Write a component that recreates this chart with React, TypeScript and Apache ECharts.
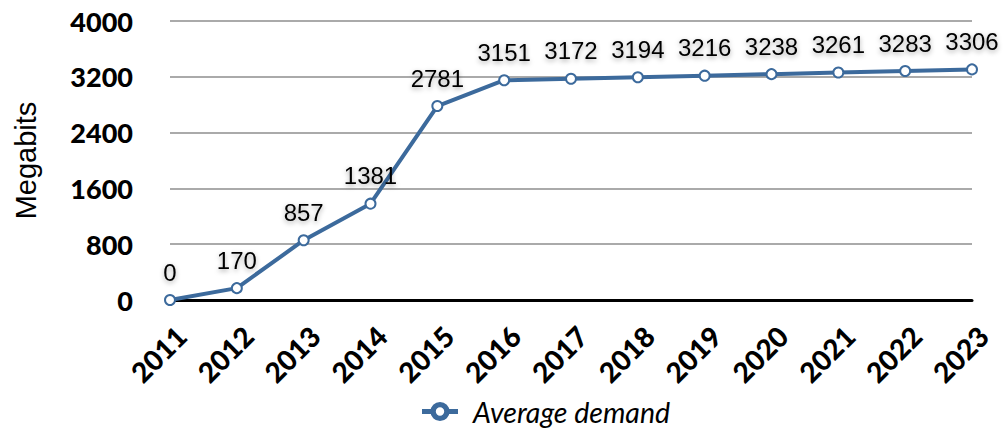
import React, { useEffect, useRef } from "react";
import * as echarts from "echarts";

const years = ["2011", "2012", "2013", "2014", "2015", "2016", "2017", "2018", "2019", "2020", "2021", "2022", "2023"];
const demand = [0, 170, 857, 1381, 2781, 3151, 3172, 3194, 3216, 3238, 3261, 3283, 3306];
const seriesName = "Average demand";
const yTitle = "Megabits";

const legendIcon =
  "path://M15,0 A8,8 0 1,1 15,16 A8,8 0 1,1 15,0 Z M15,4.5 A3.5,3.5 0 1,0 15,11.5 A3.5,3.5 0 1,0 15,4.5 Z M0,6 L7.5,6 L7.5,10 L0,10 Z M22.5,6 L30,6 L30,10 L22.5,10 Z";

export default function App() {
  const ref = useRef<HTMLDivElement>(null);
  useEffect(() => {
    const chart = echarts.init(ref.current!, null, { renderer: "svg" });
    chart.setOption({
      animation: false,
      grid: { left: 170, right: 31, top: 21, bottom: 132 },
      legend: {
        data: [seriesName],
        top: 392,
        left: 417,
        icon: legendIcon,
        itemWidth: 36,
        itemHeight: 20,
        itemStyle: { color: "#3c6a9c", borderWidth: 0 },
        textStyle: {
          fontFamily: "Lato",
          fontStyle: "italic",
          fontSize: 28.5,
          color: "#000",
          padding: [0, 0, 0, 10],
        },
      },
      xAxis: {
        type: "category",
        data: years,
        boundaryGap: false,
        axisLine: { lineStyle: { color: "#000", width: 3 } },
        axisTick: { show: false },
        axisLabel: {
          interval: 0,
          rotate: 45,
          margin: 0,
          verticalAlign: "top",
          padding: [16, 14, 0, 0],
          fontFamily: "Lato",
          fontWeight: 900,
          fontSize: 28,
          color: "#000",
        },
      },
      yAxis: {
        type: "value",
        min: 0,
        max: 4000,
        interval: 800,
        name: yTitle,
        nameLocation: "middle",
        nameGap: 130,
        nameTextStyle: { fontFamily: "Liberation Sans", fontSize: 29, color: "#000" },
        axisLine: { show: false },
        axisTick: { show: false },
        axisLabel: {
          margin: 37,
          formatter: (v: number) => String(v),
          fontFamily: "Lato",
          fontWeight: 900,
          fontSize: 27,
          color: "#000",
        },
        splitLine: { lineStyle: { color: "#aaaaaa", width: 2 } },
      },
      series: [
        {
          name: seriesName,
          type: "line",
          data: demand,
          symbol: "emptyCircle",
          symbolSize: 10,
          lineStyle: { color: "#3c6a9c", width: 4 },
          itemStyle: { color: "#3c6a9c", borderWidth: 4 },
          label: {
            show: true,
            position: "top",
            distance: 10,
            fontFamily: "Liberation Sans",
            fontSize: 24,
            color: "#000",
            textShadowColor: "rgba(0,0,0,0.35)",
            textShadowBlur: 5,
            textShadowOffsetY: 2,
          },
        },
      ],
    });
    return () => chart.dispose();
  }, []);
  return (
    <div
      ref={ref}
      style={{ position: "absolute", left: 0, top: 0, width: 1003, height: 432 }}
    />
  );
}
